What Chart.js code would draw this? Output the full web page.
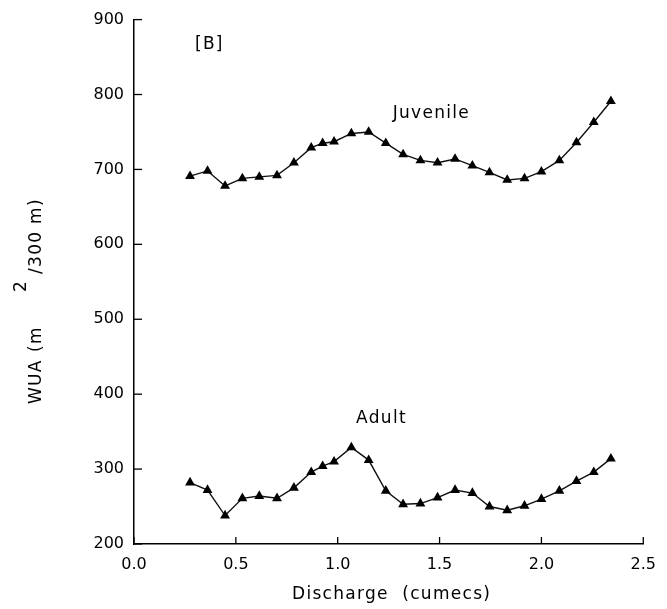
<!DOCTYPE html>
<html>
<head>
<meta charset="utf-8">
<script src="https://cdn.jsdelivr.net/npm/chart.js@4.4.1/dist/chart.umd.min.js"></script>
<style>
  html, body { margin: 0; padding: 0; background: #fff; }
  #wrap { width: 667px; height: 609px; }
</style>
</head>
<body>
<div id="wrap"><canvas id="wua" width="667" height="609"></canvas></div>
<script>
// discharge steps (cumecs) shared by both life stages
const discharge = [0.275, 0.361, 0.447, 0.532, 0.615, 0.702, 0.785, 0.870, 0.926, 0.982,
                   1.067, 1.152, 1.236, 1.321, 1.406, 1.490, 1.576, 1.661, 1.745, 1.832,
                   1.917, 2.000, 2.088, 2.172, 2.257, 2.341];
// weighted usable area, m2 per 300 m of reach
const juvenileWUA = [691, 698, 678, 688, 690, 692, 709, 729, 735, 737,
                     748, 750, 735, 720, 712, 709, 714, 705, 696, 686,
                     688, 697, 712, 736, 763, 791];
const adultWUA = [282, 272, 238, 261, 264, 261, 275, 296, 304, 310,
                  329, 312, 271, 253, 254, 262, 272, 268, 250, 245,
                  251, 260, 271, 284, 296, 314];

const xTicks = [0, 0.5, 1.0, 1.5, 2.0, 2.5];
const yTicks = [200, 300, 400, 500, 600, 700, 800, 900];

// text labels placed in data units
const notes = [
  { text: '[B]', x: 0.37, y: 866 },
  { text: 'Juvenile', x: 1.46, y: 775 },
  { text: 'Adult', x: 1.215, y: 368 }
];

const FONT = '"DejaVu Sans", sans-serif';
const SPACING = '1.3px';

function toPoints(ys) {
  return discharge.map((x, i) => ({ x: x, y: ys[i] }));
}

function seriesStyle(ys) {
  return {
    data: toPoints(ys),
    borderColor: '#111',
    borderWidth: 1.4,
    backgroundColor: '#000',
    pointStyle: 'triangle',
    pointRadius: 5.7,
    pointBorderWidth: 0,
    pointBackgroundColor: '#000',
    tension: 0,
    fill: false
  };
}

// ticks point into the plot, like the old plotter output
const inwardTicks = {
  id: 'inwardTicks',
  afterDraw(chart) {
    const ctx = chart.ctx;
    const xs = chart.scales.x, ys = chart.scales.y;
    ctx.save();
    ctx.strokeStyle = '#000';
    ctx.lineWidth = 1.3;
    xTicks.forEach(v => {
      const px = xs.getPixelForValue(v);
      ctx.beginPath();
      ctx.moveTo(px, ys.bottom);
      ctx.lineTo(px, ys.bottom - 7);
      ctx.stroke();
    });
    yTicks.forEach(v => {
      const py = ys.getPixelForValue(v);
      ctx.beginPath();
      ctx.moveTo(xs.left, py);
      ctx.lineTo(xs.left + 8, py);
      ctx.stroke();
    });
    ctx.restore();
  }
};

const notesAndTitles = {
  id: 'notesAndTitles',
  afterDraw(chart) {
    const ctx = chart.ctx;
    const xs = chart.scales.x, ys = chart.scales.y;
    ctx.save();
    ctx.letterSpacing = SPACING;
    ctx.fillStyle = '#000';
    ctx.font = '17px ' + FONT;
    ctx.textAlign = 'center';
    ctx.textBaseline = 'middle';
    notes.forEach(n => {
      ctx.fillText(n.text, xs.getPixelForValue(n.x), ys.getPixelForValue(n.y));
    });

    // x title
    ctx.fillText('Discharge  (cumecs)', (xs.left + xs.right) / 2 + 3, 595);

    // rotated y title with raised exponent
    ctx.translate(41, 404);
    ctx.rotate(-Math.PI / 2);
    ctx.textAlign = 'left';
    ctx.textBaseline = 'alphabetic';
    ctx.fillText('WUA', 0, 0);
    ctx.fillText('(m', 52, 0);
    ctx.fillText('2', 112, -15);
    ctx.fillText('/300 m)', 130, 0);
    ctx.restore();
  }
};

new Chart(document.getElementById('wua'), {
  type: 'line',
  data: {
    datasets: [
      Object.assign({ label: 'Juvenile' }, seriesStyle(juvenileWUA)),
      Object.assign({ label: 'Adult' }, seriesStyle(adultWUA))
    ]
  },
  options: {
    responsive: false,
    animation: false,
    layout: { padding: { left: 0, top: 19, right: 13, bottom: 0 } },
    plugins: {
      legend: { display: false },
      tooltip: { enabled: false }
    },
    scales: {
      x: {
        type: 'linear',
        min: 0,
        max: 2.5,
        afterFit(scale) { scale.height = 65; },
        afterBuildTicks(scale) { scale.ticks = xTicks.map(v => ({ value: v })); },
        grid: { display: false, drawTicks: false },
        border: { display: true, color: '#000', width: 1.5 },
        ticks: {
          color: '#000',
          padding: 11,
          maxRotation: 0,
          font: { family: FONT, size: 16 },
          callback: v => v.toFixed(1)
        }
      },
      y: {
        type: 'linear',
        min: 200,
        max: 900,
        afterFit(scale) { scale.width = 134; },
        afterBuildTicks(scale) { scale.ticks = yTicks.map(v => ({ value: v })); },
        grid: { display: false, drawTicks: false },
        border: { display: true, color: '#000', width: 1.5 },
        ticks: {
          color: '#000',
          padding: 10,
          font: { family: FONT, size: 16 }
        }
      }
    }
  },
  plugins: [inwardTicks, notesAndTitles]
});
</script>
</body>
</html>
